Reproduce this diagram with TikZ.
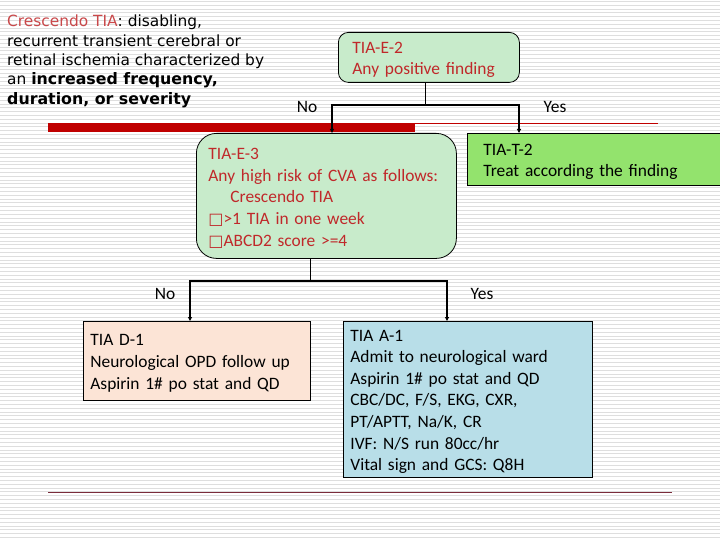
\documentclass[tikz,border=0pt]{standalone}
\usepackage{fontspec}
\setmainfont{Carlito}
\newfontfamily\verd{DejaVu Sans}
\usetikzlibrary{arrows.meta}
\definecolor{boxgreen}{HTML}{C8EBCB}
\definecolor{brightgreen}{HTML}{93E36D}
\definecolor{peach}{HTML}{FCE4D6}
\definecolor{lblue}{HTML}{B8DEE8}
\definecolor{dred}{HTML}{C0282A}
\definecolor{barred}{HTML}{C00000}
\definecolor{maroon}{HTML}{7B2C3B}
\definecolor{stripe}{HTML}{DEDEDE}
\newcommand\toppad{\rule{0pt}{16pt}}
\newcommand\sq{{\verd\fontsize{16}{21.6}\selectfont □}}
\tikzset{
  txt/.style={font=\fontsize{17.4}{21.6}\selectfont, align=left, anchor=north west, inner ysep=0pt},
  rbox/.style={txt, draw=black, line width=0.8pt, fill=boxgreen, text=dred},
  sbox/.style={txt, draw=black, line width=0.8pt},
  lbl/.style={font=\fontsize{17.4}{20}\selectfont, inner sep=0pt},
  arr/.style={line width=1.3pt, -{Triangle[length=4pt,width=4pt]}},
  stem/.style={line width=0.9pt}
}
\begin{document}
\begin{tikzpicture}[x=1pt,y=-1pt]
\useasboundingbox (0,0) rectangle (720,540);
\fill[white] (0,0) rectangle (720,540);
\foreach \i in {0,...,141}{
  \draw[stripe, line width=0.8pt] (0,1.5+\i*3.8) -- (720,1.5+\i*3.8);
}
% title text
\node[anchor=north west, inner sep=0pt, align=left, font=\verd\fontsize{15.4}{19.3}\selectfont] (title) at (7,15)
 {\textcolor{dred!85}{Crescendo TIA}: disabling,\\
  recurrent transient cerebral or\\
  retinal ischemia characterized by\\
  an {\bfseries\fontsize{15.8}{19.3}\selectfont increased frequency,}\\
  {\bfseries\fontsize{15.8}{19.3}\selectfont duration, or severity}};
% bars
\fill[barred] (48,123) rectangle (415,132);
\draw[barred, line width=0.6pt] (415,123.5) -- (658,123.5);
\draw[maroon, line width=0.9pt] (48,492.5) -- (672,492.5);
% boxes
\node[rbox, rounded corners=10pt, minimum width=181pt, minimum height=50pt, text width=153pt, inner xsep=14pt] (e2) at (338,32)
 {\toppad TIA-E-2\\Any positive finding};
\node[rbox, rounded corners=20pt, minimum width=260pt, minimum height=125pt, text width=236pt, inner xsep=12pt] (e3) at (196,133)
 {\toppad TIA-E-3\\Any high risk of CVA as follows:\\\hspace*{22pt}Crescendo TIA\\\sq>1 TIA in one week\\\sq ABCD2 score >=4};
\node[sbox, fill=brightgreen, minimum width=260pt, minimum height=52pt, text width=228pt, inner xsep=16pt] (t2) at (467,133)
 {\toppad TIA-T-2\\Treat according the finding};
\node[sbox, fill=peach, minimum width=227pt, minimum height=79pt, text width=213pt, inner xsep=7pt] (d1) at (83,321)
 {\toppad TIA D-1\\Neurological OPD follow up\\Aspirin 1\# po stat and QD};
\node[sbox, fill=lblue, minimum width=249pt, minimum height=156pt, text width=235pt, inner xsep=7pt] (a1) at (343,321)
 {\toppad TIA A-1\\Admit to neurological ward\\Aspirin 1\# po stat and QD\\CBC/DC, F/S, EKG, CXR,\\PT/APTT, Na/K, CR\\IVF: N/S run 80cc/hr\\Vital sign and GCS: Q8H};
% connectors
\coordinate (j1) at (425,105);
\coordinate (j1l) at (332,105);
\coordinate (j1r) at (519,105);
\draw[stem] (e2.south -| j1) -- (j1);
\draw[arr] (j1) -- (j1l) -- (j1l |- e3.north);
\draw[arr] (j1) -- (j1r) -- (j1r |- t2.north);
\coordinate (j2) at (310,281);
\coordinate (j2l) at (190,281);
\coordinate (j2r) at (447,281);
\draw[stem] (e3.south -| j2) -- (j2);
\draw[arr] (j2) -- (j2l) -- (j2l |- d1.north);
\draw[arr] (j2) -- (j2r) -- (j2r |- a1.north);
% labels
\node[lbl] (no1) at (307,107) {No};
\node[lbl] (yes1) at (555,107) {Yes};
\node[lbl] (no2) at (165,294) {No};
\node[lbl] (yes2) at (482,294) {Yes};
\end{tikzpicture}
\end{document}
